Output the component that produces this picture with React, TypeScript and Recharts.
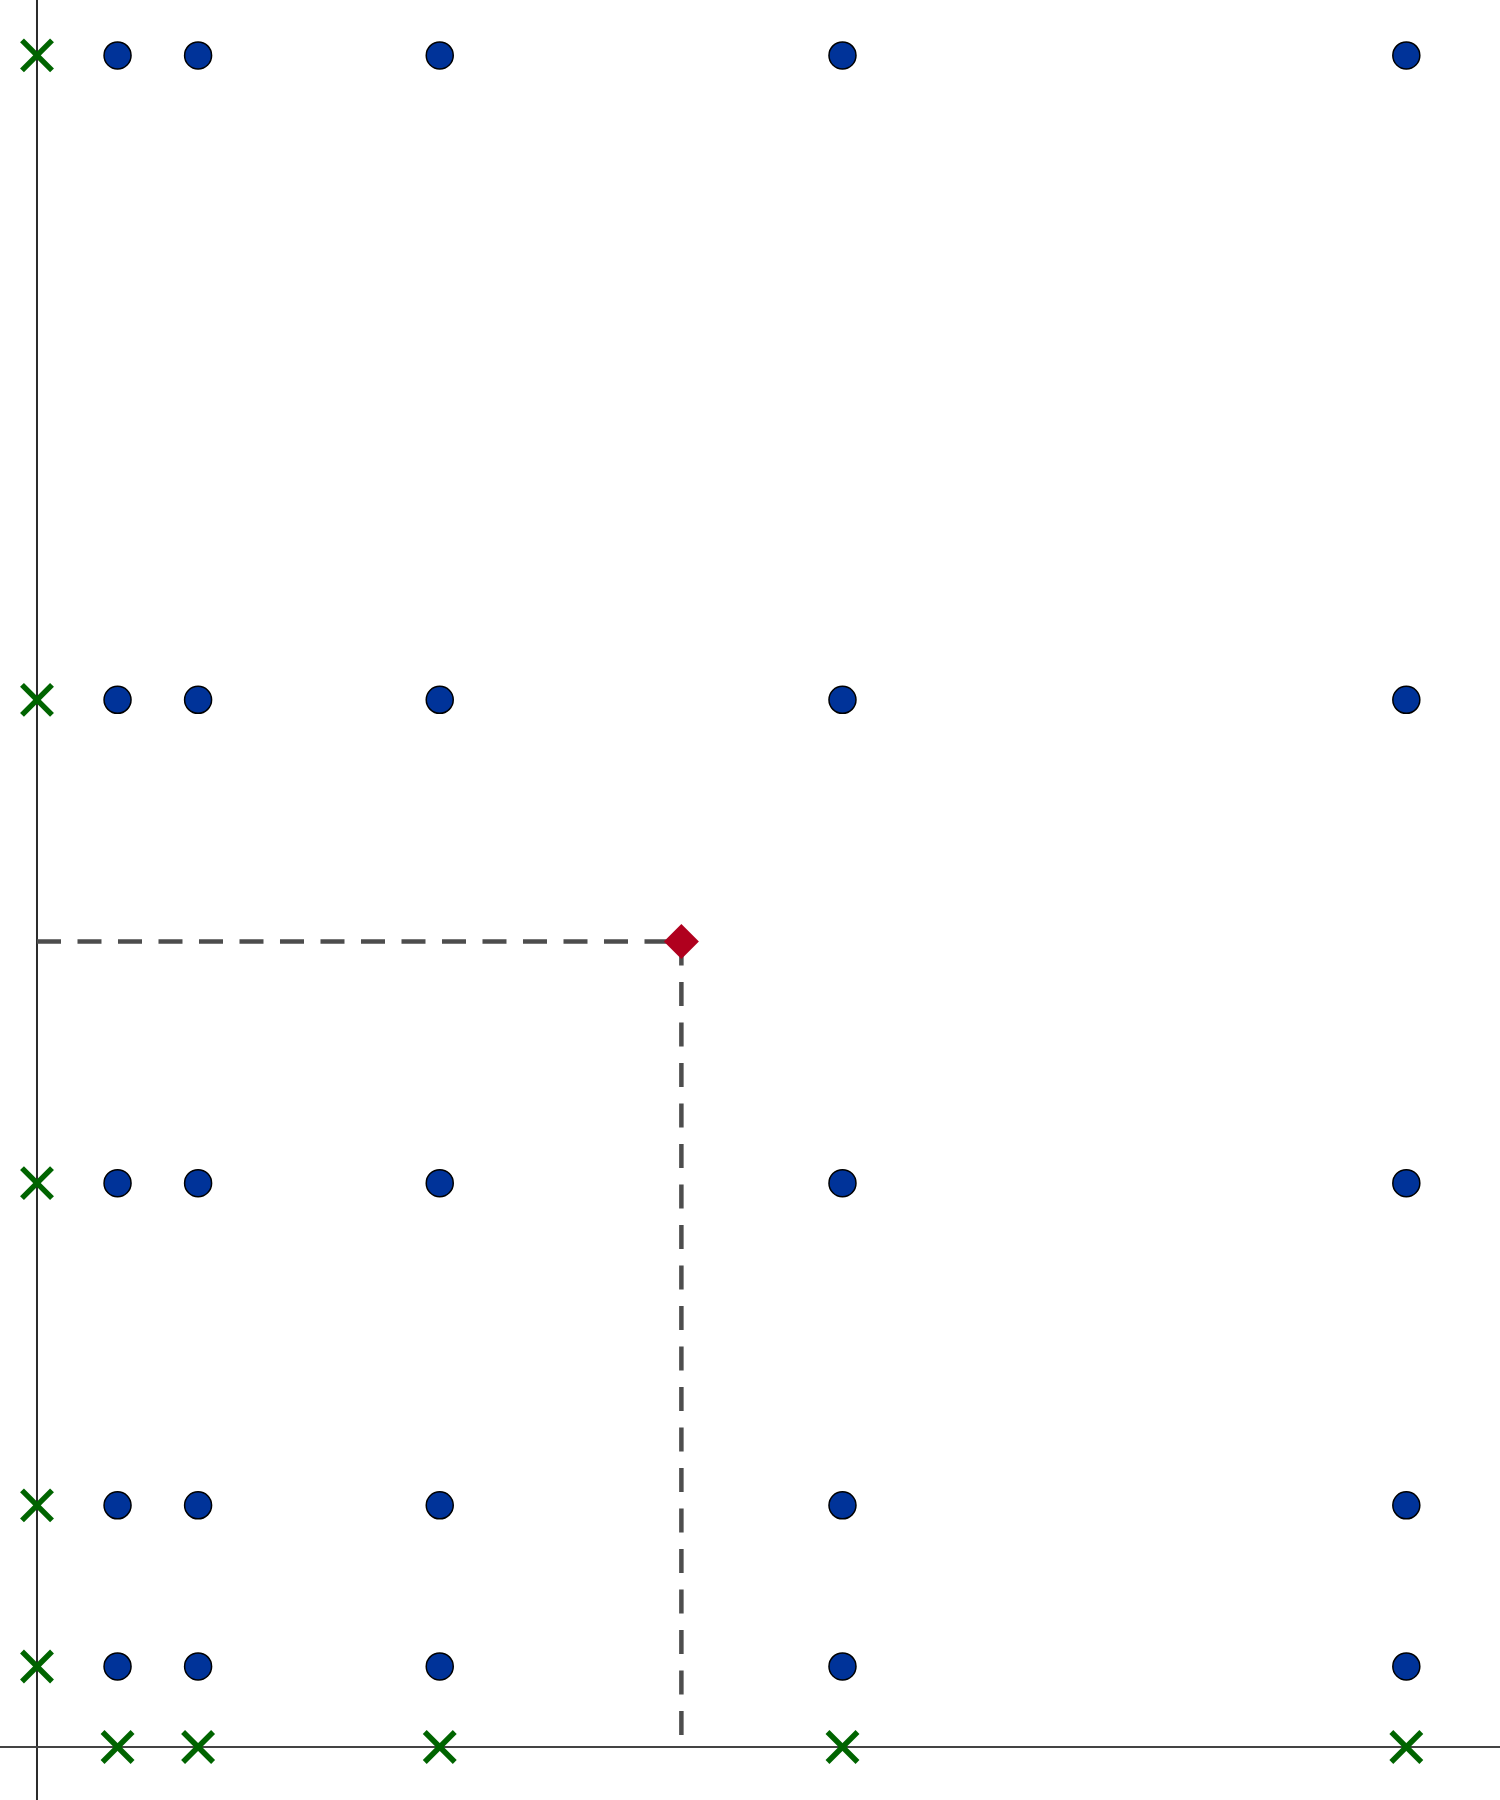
import { ScatterChart, Scatter, XAxis, YAxis, ReferenceLine } from 'recharts';

// grid positions of the lattice points
const xValues = [1, 2, 5, 10, 17];
const yValues = [1, 3, 7, 13, 21];
const target = { x: 8, y: 10 };

const X_DOMAIN: [number, number] = [-0.4593, 18.163];
const Y_DOMAIN: [number, number] = [-0.658, 21.688];

const dots = yValues.flatMap((y) => xValues.map((x) => ({ x, y })));
const axisMarks = [
  ...yValues.map((y) => ({ x: 0, y })),
  ...xValues.map((x) => ({ x, y: 0 })),
];

const CrossShape = (props: any) => {
  const { cx, cy } = props;
  const r = 15;
  return (
    <g stroke="#006400" strokeWidth={5.5}>
      <line x1={cx - r} y1={cy - r} x2={cx + r} y2={cy + r} />
      <line x1={cx - r} y1={cy + r} x2={cx + r} y2={cy - r} />
    </g>
  );
};

const DotShape = (props: any) => (
  <circle cx={props.cx} cy={props.cy} r={13.5} fill="#003399" stroke="#000" strokeWidth={1.5} />
);

const DiamondShape = (props: any) => {
  const { cx, cy } = props;
  const d = 17.5;
  return (
    <polygon
      points={`${cx},${cy - d} ${cx + d},${cy} ${cx},${cy + d} ${cx - d},${cy}`}
      fill="#b0001e"
    />
  );
};

export default function App() {
  return (
    <div style={{ position: 'absolute', left: 0, top: 0, background: '#fff' }}>
      <ScatterChart width={1500} height={1800} margin={{ top: 0, right: 0, bottom: 0, left: 0 }}>
        <XAxis type="number" dataKey="x" domain={X_DOMAIN} allowDataOverflow hide />
        <YAxis type="number" dataKey="y" domain={Y_DOMAIN} allowDataOverflow hide />
        <ReferenceLine x={0} stroke="#2b2b2b" strokeWidth={2} />
        <ReferenceLine y={0} stroke="#444" strokeWidth={2} />
        <ReferenceLine
          segment={[{ x: 0, y: target.y }, { x: target.x, y: target.y }]}
          stroke="#4d4d4d"
          strokeWidth={4.5}
          strokeDasharray="24 16.5"
        />
        <ReferenceLine
          segment={[{ x: target.x, y: target.y }, { x: target.x, y: 0 }]}
          stroke="#4d4d4d"
          strokeWidth={4.5}
          strokeDasharray="24 16.5"
        />
        <Scatter data={dots} shape={DotShape} isAnimationActive={false} />
        <Scatter data={axisMarks} shape={CrossShape} isAnimationActive={false} />
        <Scatter data={[target]} shape={DiamondShape} isAnimationActive={false} />
      </ScatterChart>
    </div>
  );
}
